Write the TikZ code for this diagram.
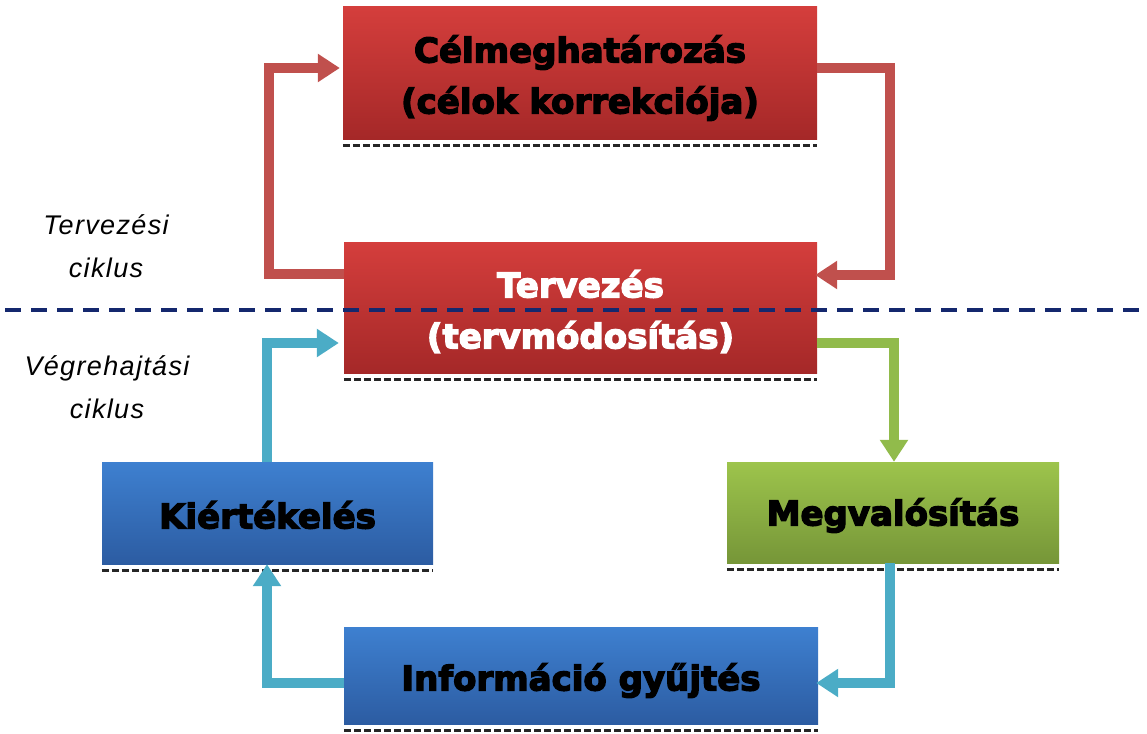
\documentclass[tikz,border=0pt]{standalone}
\usepackage{fontspec}
\setmainfont{Liberation Sans}
\newfontfamily\heavy[FakeBold=4]{DejaVu Sans Bold}
\newfontfamily\labfont[LetterSpace=5]{Liberation Sans}
\usetikzlibrary{arrows.meta}
\definecolor{redtop}{RGB}{212,62,60}
\definecolor{redbot}{RGB}{165,40,40}
\definecolor{redarr}{RGB}{192,80,77}
\definecolor{bluetop}{RGB}{62,128,208}
\definecolor{bluebot}{RGB}{44,92,162}
\definecolor{greentop}{RGB}{157,196,76}
\definecolor{greenbot}{RGB}{118,150,56}
\definecolor{greenarr}{RGB}{145,187,75}
\definecolor{cyanarr}{RGB}{75,172,198}
\definecolor{navy}{RGB}{20,40,110}
\tikzset{
  box/.style={rectangle, inner sep=0pt},
  boxtext/.style={align=center, inner sep=0pt,
    font=\heavy\fontsize{34}{51}\selectfont},
  redbox/.style={box, top color=redtop, bottom color=redbot},
  bluebox/.style={box, top color=bluetop, bottom color=bluebot},
  greenbox/.style={box, top color=greentop, bottom color=greenbot},
  flow/.style={line width=9.5pt, line join=miter, line cap=butt,
    -{Triangle[length=22pt,width=27pt]}},
  redflow/.style={flow, draw=redarr},
  cyanflow/.style={flow, draw=cyanarr},
  greenflow/.style={flow, draw=greenarr},
  boxshadow/.style={draw=black!85, line width=3pt, dash pattern=on 7pt off 3pt},
  divider/.style={draw=navy, line width=4pt, dash pattern=on 16pt off 10pt},
  cyclabel/.style={align=center, font=\labfont\itshape\fontsize{27}{43}\selectfont}
}
\begin{document}
\begin{tikzpicture}[x=1pt,y=-1pt]
\useasboundingbox (0,0) rectangle (1147,733);
% boxes
\node[redbox, minimum width=474pt, minimum height=132pt] (goal) at (580,73) {};
\node[redbox, minimum width=473pt, minimum height=131pt] (plan) at (580.5,307.5) {};
\node[bluebox, minimum width=331pt, minimum height=102pt] (eval) at (267.5,513) {};
\node[greenbox, minimum width=332pt, minimum height=101pt] (impl) at (893,512.5) {};
\node[bluebox, minimum width=474pt, minimum height=97pt] (info) at (581,675.5) {};
% shadows
\foreach \b in {goal,plan,eval,impl,info}{
  \draw[boxshadow] ([yshift=-6pt]\b.south west) -- ([yshift=-6pt]\b.south east);
}
% box texts
\node[boxtext, text=black] (goalt) at ([yshift=-5pt]goal.center) {Célmeghatározás\\(célok korrekciója)};
\node[boxtext, text=white] (plant) at ([yshift=-4pt]plan.center) {Tervezés\\(tervmódosítás)};
\node[boxtext, text=black] (evalt) at ([yshift=-2pt]eval.center) {Kiértékelés};
\node[boxtext, text=black] (implt) at ([yshift=-3pt]impl.center) {Megvalósítás};
\node[boxtext, text=black] (infot) at ([yshift=-5pt]info.center) {Információ gyűjtés};
% corner coordinates
\coordinate (c1) at (269,274);
\coordinate (c2) at (269,68);
\coordinate (c3) at (890,68);
\coordinate (c4) at (890,275);
\coordinate (c5) at (894,343);
\coordinate (c6) at (890,683);
\coordinate (c7) at (267,683);
\coordinate (c8) at (267,343);
% connectors
\draw[redflow, shorten >=3pt] (c1 -| plan.west) -- (c1) -- (c2) -- (c2 -| goal.west);
\draw[redflow, shorten >=-2pt] (c3 -| goal.east) -- (c3) -- (c4) -- (c4 -| plan.east);
\draw[greenflow] (c5 -| plan.east) -- (c5) -- (c5 |- impl.north);
\draw[cyanflow, shorten >=-2pt] (c6 |- impl.south) -- (c6) -- (c6 -| info.east);
\draw[cyanflow] (c7 -| info.west) -- (c7) -- (c7 |- eval.south);
\draw[cyanflow, shorten >=5pt] (c8 |- eval.north) -- (c8) -- (c8 -| plan.west);
% divider
\coordinate (dl) at (5,310);
\coordinate (dr) at (1147,310);
\draw[divider] (dl) -- (dr);
% cycle labels
\node[cyclabel] (planlab) at (106,246) {Tervezési\\ciklus};
\node[cyclabel] (execlab) at (107,387) {Végrehajtási\\ciklus};
\end{tikzpicture}
\end{document}
